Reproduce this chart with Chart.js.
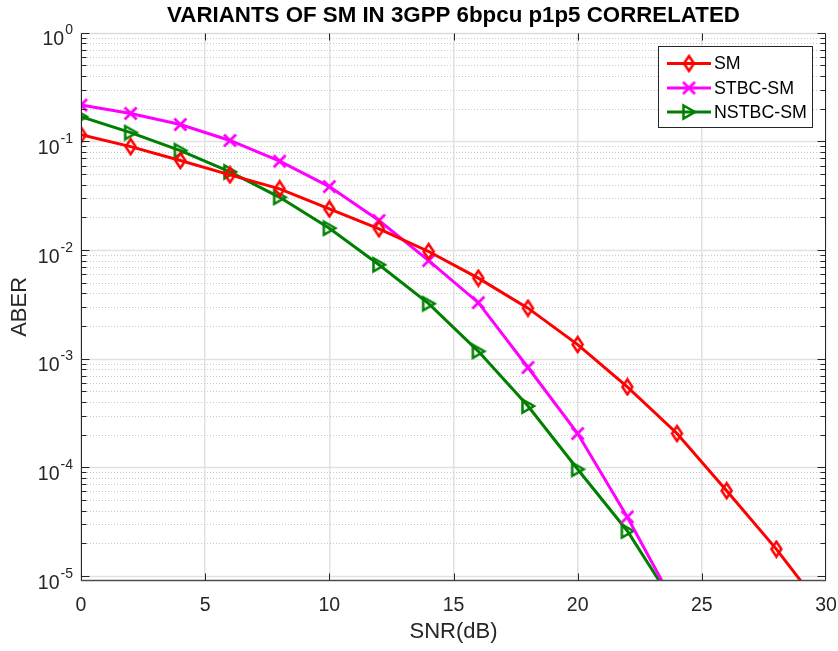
<!DOCTYPE html>
<html><head><meta charset="utf-8">
<script src="https://cdn.jsdelivr.net/npm/chart.js@4/dist/chart.umd.min.js"></script>
<style>html,body{margin:0;padding:0;background:#fff}#wrap{width:838px;height:651px}</style>
</head><body><div id="wrap"><canvas id="c" width="838" height="651"></canvas></div>
<script>
// ---- data ----
const snr = [0,2,4,6,8,10,12,14,16,18,20,22,24,26,28,30];
const smBER    = [0.115,0.0895,0.0667,0.0492,0.0366,0.0239,0.0157,0.0097,0.00552,0.00292,0.00135,0.00055,0.000205,6.1e-5,1.77e-5,4.5e-6];
const stbcBER  = [0.216,0.181,0.143,0.102,0.0657,0.0384,0.0187,0.0080,0.00328,0.00083,0.000205,3.5e-5,5e-6];
const nstbcBER = [0.169,0.1205,0.0823,0.0525,0.0306,0.0159,0.00733,0.00321,0.00117,0.000367,9.6e-5,2.6e-5,5e-6];
const seriesLabels = ['SM','STBC-SM','NSTBC-SM'];
const xTicks = [0,5,10,15,20,25,30];
const yExponents = [0,-1,-2,-3,-4,-5];
const minorMult = [2,3,4,5,6,7,8,9];

const FONT = "'Liberation Sans', Arial, Helvetica, sans-serif";
const AX = '#262626';

// ---- marker images ----
function mk(w,h,fn){const c=document.createElement('canvas');c.width=w;c.height=h;const g=c.getContext('2d');fn(g);return c;}
const diamond = mk(15,19,g=>{g.strokeStyle='#ff0000';g.lineWidth=2.5;g.beginPath();g.moveTo(7.5,2);g.lineTo(12.5,9.5);g.lineTo(7.5,17);g.lineTo(2.5,9.5);g.closePath();g.stroke();});
const cross = mk(15,15,g=>{g.strokeStyle='#ff00ff';g.lineWidth=2.8;g.beginPath();g.moveTo(1.5,1.5);g.lineTo(13.5,13.5);g.moveTo(13.5,1.5);g.lineTo(1.5,13.5);g.stroke();});
const tri = mk(18,18,g=>{g.strokeStyle='#008000';g.lineWidth=2.5;g.lineJoin='miter';g.beginPath();g.moveTo(3.5,2.5);g.lineTo(15,9);g.lineTo(3.5,15.5);g.closePath();g.stroke();});
const markers=[diamond,cross,tri];
const colors=['#ff0000','#ff00ff','#008000'];

const pts = arr => arr.map((v,i)=>({x:snr[i],y:v}));
const dataSets=[smBER,stbcBER,nstbcBER].map((arr,i)=>({
  label:seriesLabels[i], data:pts(arr), borderColor:colors[i], borderWidth:3,
  pointStyle:markers[i], pointRadius:6, pointBackgroundColor:'rgba(0,0,0,0)', pointBorderColor:colors[i],
  tension:0, fill:false
}));

const matlabPlugin = {
  id:'matlab',
  beforeDatasetsDraw(chart){
    const {ctx, chartArea:a, scales:{y}} = chart;
    ctx.save();
    ctx.lineWidth=1;
    ctx.strokeStyle='#c8c8c8'; ctx.setLineDash([1,2]);
    for(let n=-5;n<0;n++){ for(const m of minorMult){
      const py=Math.round(y.getPixelForValue(m*Math.pow(10,n)))+0.5;
      if(py<a.top||py>a.bottom-1) continue;
      ctx.beginPath(); ctx.moveTo(a.left,py); ctx.lineTo(a.right,py); ctx.stroke();
    }}
    ctx.setLineDash([]);
    ctx.strokeStyle='#e1e1e1'; ctx.lineWidth=1.5;
    for(const e of yExponents){
      const py=Math.round(y.getPixelForValue(Math.pow(10,e)))+0.5;
      ctx.beginPath(); ctx.moveTo(a.left,py); ctx.lineTo(a.right,py); ctx.stroke();
    }
    ctx.restore();
  },
  afterDatasetsDraw(chart){
    const {ctx, chartArea:a, scales:{x,y}} = chart;
    ctx.save();
    const L=Math.round(a.left)+0.5, R=Math.round(a.right)-0.5, T=Math.round(a.top)+0.5, B=Math.round(a.bottom)-0.5;
    ctx.lineWidth=1;
    ctx.strokeStyle='#d9d9d9';
    ctx.beginPath(); ctx.moveTo(L,T); ctx.lineTo(R,T); ctx.stroke();
    ctx.strokeStyle=AX;
    ctx.beginPath(); ctx.moveTo(L,T); ctx.lineTo(L,B); ctx.moveTo(R,T); ctx.lineTo(R,B); ctx.stroke();
    ctx.lineWidth=1.5; ctx.strokeStyle='#4d4d4d';
    ctx.beginPath(); ctx.moveTo(L-0.5,B); ctx.lineTo(R+0.5,B); ctx.stroke();
    ctx.lineWidth=1; ctx.strokeStyle=AX;
    ctx.beginPath();
    for(const v of xTicks){ const px=Math.round(x.getPixelForValue(v))+0.5;
      if(v===0||v===30) continue;
      ctx.moveTo(px,B); ctx.lineTo(px,B-7); ctx.moveTo(px,T); ctx.lineTo(px,T+7); }
    for(const e of yExponents){ const py=Math.round(y.getPixelForValue(Math.pow(10,e)))+0.5;
      ctx.moveTo(L,py); ctx.lineTo(L+8,py); ctx.moveTo(R,py); ctx.lineTo(R-8,py); }
    for(let n=-5;n<0;n++){ for(const m of minorMult){
      const py=Math.round(y.getPixelForValue(m*Math.pow(10,n)))+0.5;
      if(py<a.top||py>a.bottom-2) continue;
      ctx.moveTo(L,py); ctx.lineTo(L+5,py); ctx.moveTo(R,py); ctx.lineTo(R-5,py); }}
    ctx.stroke();
    // y tick labels with superscripts
    ctx.fillStyle=AX; ctx.textBaseline='alphabetic'; ctx.textAlign='right';
    for(const e of yExponents){
      const py=y.getPixelForValue(Math.pow(10,e));
      const ex=String(e);
      ctx.font='14px '+FONT;
      const ew=ctx.measureText(ex).width;
      ctx.fillText(ex,73,py+1.5);
      ctx.font='19.5px '+FONT;
      ctx.fillText('10',73-ew-1,py+12.5);
    }
    // legend
    const bx=658.5, by=46.5, bw=154, bh=81;
    ctx.fillStyle='#fff'; ctx.fillRect(bx,by,bw,bh);
    ctx.strokeStyle=AX; ctx.lineWidth=1; ctx.strokeRect(bx,by,bw,bh);
    const rows=[63.5,88,112];
    ctx.textAlign='left'; ctx.textBaseline='middle'; ctx.font='17.8px '+FONT;
    chart.data.datasets.forEach((ds,i)=>{
      const ry=rows[i];
      ctx.strokeStyle=ds.borderColor; ctx.lineWidth=3;
      ctx.beginPath(); ctx.moveTo(667,ry); ctx.lineTo(711,ry); ctx.stroke();
      const im=ds.pointStyle; ctx.drawImage(im,689-im.width/2,ry-im.height/2);
      ctx.fillStyle='#000'; ctx.fillText(ds.label,714,ry+1);
    });
    ctx.restore();
  }
};

new Chart(document.getElementById('c'),{
  type:'line',
  data:{datasets:dataSets},
  options:{
    responsive:false, devicePixelRatio:1, animation:false, events:[],
    layout:{padding:{left:0,right:12,top:0,bottom:0}},
    plugins:{
      legend:{display:false}, tooltip:{enabled:false},
      title:{display:true, fullSize:false, text:'VARIANTS OF SM IN 3GPP 6bpcu p1p5 CORRELATED',
        color:'#000', font:{family:FONT,size:22.3,weight:'bold'}, padding:{top:2,bottom:4}}
    },
    scales:{
      x:{type:'linear', min:0, max:30,
        afterBuildTicks:s=>{s.ticks=xTicks.map(v=>({value:v}));},
        ticks:{font:{family:FONT,size:19.5}, color:AX, padding:13, maxRotation:0, autoSkip:false},
        grid:{color:'#e1e1e1', lineWidth:1.5, drawTicks:false},
        border:{display:false},
        title:{display:true, text:'SNR(dB)', color:AX, font:{family:FONT,size:22}, padding:{top:0,bottom:6}},
        afterFit:s=>{s.height=70; s.paddingLeft=0; s.paddingRight=0;}
      },
      y:{type:'logarithmic', min:9e-6, max:1,
        ticks:{display:false}, grid:{display:false}, border:{display:false},
        title:{display:true, text:'ABER', color:AX, font:{family:FONT,size:22}, padding:{top:7,bottom:0}},
        afterFit:s=>{s.width=81;}
      }
    }
  },
  plugins:[matlabPlugin]
});
</script></body></html>
